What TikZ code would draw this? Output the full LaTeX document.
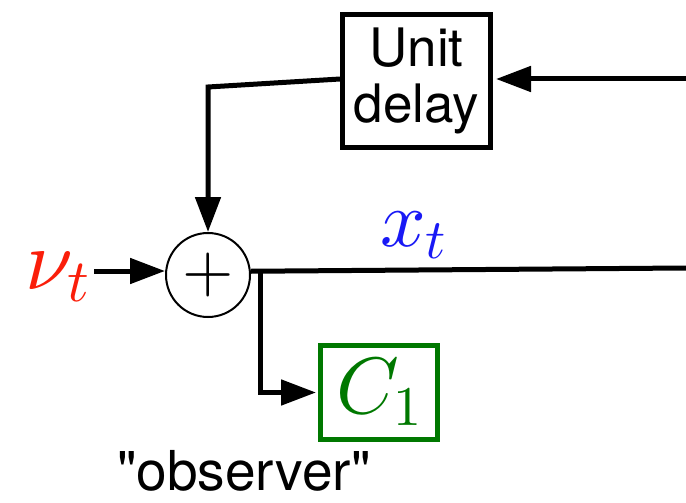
\RequirePackage{fix-cm}
\documentclass[tikz,border=0pt]{standalone}
\usepackage{fontspec}
\newfontfamily\heros{TeX Gyre Heros}
\usetikzlibrary{arrows.meta}
\definecolor{nured}{RGB}{250,30,10}
\definecolor{xblue}{RGB}{25,25,245}
\definecolor{cgreen}{RGB}{0,120,0}
\DeclareFontShape{OML}{cmm}{m}{it}{<->cmmi10}{}
\DeclareFontShape{OT1}{cmr}{m}{n}{<->cmr10}{}
\begin{document}
\begin{tikzpicture}[x=1pt,y=-1pt,
  conn/.style={line width=5pt,-{Triangle[length=35pt,width=25pt]}},
  plain/.style={line width=5pt},
  blk/.style={draw,line width=5pt,inner sep=0pt},
  lbl/.style={font=\heros\fontsize{53}{60}\selectfont},
  mth/.style={inner sep=0pt,font=\fontsize{80}{96}\selectfont}]
\useasboundingbox (0,0) rectangle (686,503);
\node[blk,lbl,minimum width=148pt,minimum height=133pt,align=center] (ud) at (416.5,81) {Unit\\[-4pt]delay};
\node[draw,circle,line width=2pt,minimum size=84pt,inner sep=0pt,font=\fontsize{66}{72}\selectfont] (sum) at (208,275) {$+$};
\node[blk,draw=cgreen,text=cgreen,mth,minimum width=117pt,minimum height=94pt] (c1) at (379,392.5) {$C_1$};
\node[mth,text=nured,anchor=base east,font=\fontsize{86}{96}\selectfont] (nu) at (90,289) {$\nu_t$};
\node[mth,text=xblue,anchor=base west] (xt) at (380,246) {$x_t$};
\node[lbl,inner sep=0pt,anchor=base,font=\heros\fontsize{55}{60}\selectfont] (obs) at (244,490) {"observer"};
\coordinate (inR) at (686,79);
\coordinate (outR) at (686,268);
\coordinate (fbk) at (208,87);
\coordinate (br) at (260,271);
\draw[conn,shorten >=3pt] (inR) -- (inR -| ud.east);
\draw[conn] ([yshift=2pt]ud.west) -- (fbk) -- (sum.north);
\draw[conn] (nu.east |- sum.west) ++(4pt,4pt) -- ([yshift=4pt]sum.west);
\draw[plain] (sum.5) -- (outR);
\draw[conn] (br) |- ([xshift=-2pt]c1.west);
\end{tikzpicture}
\end{document}
